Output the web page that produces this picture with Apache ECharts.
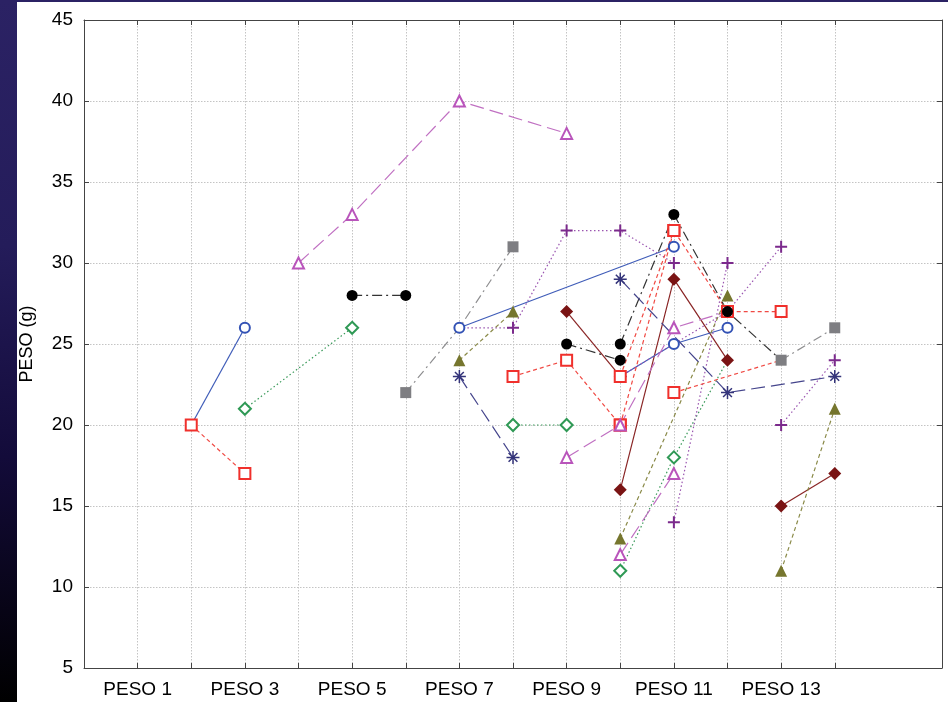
<!DOCTYPE html>
<html>
<head>
<meta charset="utf-8">
<script src="https://cdn.jsdelivr.net/npm/echarts@6/dist/echarts.min.js"></script>
<style>
    html, body { margin: 0; padding: 0; background: #fff; }
    #edge { position: absolute; left: 0; top: 0; width: 17px; height: 702px;
        background: linear-gradient(to bottom, #2b2264 0%, #241c5a 35%, #130b3a 65%, #000 100%); }
    #topEdge { position: absolute; left: 0; top: 0; width: 948px; height: 2px; background: #2b2264; }
    #myChart { position: absolute; left: 0; top: 0; width: 948px; height: 702px; }
</style>
</head>
<body>
<div id="edge"></div>
<div id="topEdge"></div>
<div id="myChart"></div>
<script>
// x labels (PESO 1..14), axis runs one step past each end
const xLabels = ['PESO 1', 'PESO 2', 'PESO 3', 'PESO 4', 'PESO 5', 'PESO 6', 'PESO 7',
    'PESO 8', 'PESO 9', 'PESO 10', 'PESO 11', 'PESO 12', 'PESO 13', 'PESO 14']
const yTicks = [5, 10, 15, 20, 25, 30, 35, 40, 45]

// each trace: [peso index, weight]
const redA = [[2, 20], [3, 17]]
const redB = [[8, 23], [9, 24], [10, 20]]
const redC = [[10, 23], [11, 32]]
const redD = [[10, 20], [11, 32], [12, 27], [13, 27]]
const redE = [[11, 22], [13, 24]]

const blueA = [[2, 20], [3, 26]]
const blueB = [[7, 26], [11, 31]]
const blueC = [[10, 23], [11, 25], [12, 26]]

const greenA = [[3, 21], [5, 26]]
const greenB = [[8, 20], [9, 20]]
const greenC = [[10, 11], [11, 18], [12, 24]]

const magA = [[4, 30], [5, 33], [7, 40], [9, 38]]
const magB = [[9, 18], [10, 20], [11, 26], [12, 27]]
const magC = [[10, 12], [11, 17]]

const blackA = [[5, 28], [6, 28]]
const blackB = [[9, 25], [10, 24]]
const blackC = [[10, 25], [11, 33], [12, 27], [13, 24]]

const grayA = [[6, 22], [7, 26], [8, 31]]
const grayB = [[13, 24], [14, 26]]

const navyA = [[7, 23], [8, 18]]
const navyB = [[10, 29], [12, 22], [14, 23]]

const darkA = [[9, 27], [10, 23]]
const darkB = [[10, 16], [11, 29], [12, 24]]
const darkC = [[13, 15], [14, 17]]

const oliveA = [[7, 24], [8, 27]]
const oliveB = [[10, 13], [12, 28]]
const oliveC = [[13, 11], [14, 21]]

const purpA = [[7, 26], [8, 26], [9, 32], [10, 32], [11, 30]]
const purpB = [[11, 14], [12, 30]]
const purpC = [[10, 23], [12, 27], [13, 31]]
const purpD = [[13, 20], [14, 24]]

// points whose marker sits under another series' marker
const hiddenMarks = [[grayA, 7], [purpA, 7], [magB, 12], [purpC, 12], [redE, 13], [blackC, 13],
    [greenC, 12], [blueA, 2]]

const plusPath = 'path://M5,0L5,10M0,5L10,5'
const starPath = 'path://M5,0L5,10M0,5L10,5M1.6,1.6L8.4,8.4M1.6,8.4L8.4,1.6'

const styles = {
    green: { color: '#2f9955', line: '#3a9a5a', symbol: 'emptyDiamond', size: 12, dash: [1.5, 2.5] },
    dark: { color: '#7a1414', line: '#8a2626', symbol: 'diamond', size: 13, dash: 'solid' },
    blue: { color: '#3352b5', line: '#3f5cb8', symbol: 'emptyCircle', size: 10, dash: 'solid' },
    purple: { color: '#7b2a8c', line: '#9a55b0', symbol: plusPath, size: 12, dash: [1.5, 2.5], stroke: 2 },
    red: { color: '#f0302c', line: '#f04a44', symbol: 'emptyRect', size: 11, dash: [4, 3] },
    mag: { color: '#b955bb', line: '#c070c2', symbol: 'emptyTriangle', size: 11, dash: [14, 6] },
    black: { color: '#000', line: '#333', symbol: 'circle', size: 11, dash: [10, 4, 2, 4] },
    gray: { color: '#7e7e82', line: '#8e8e90', symbol: 'rect', size: 11, dash: [9, 4, 2, 4] },
    navy: { color: '#34347a', line: '#45458c', symbol: starPath, size: 13, dash: [14, 6], stroke: 1.5 },
    olive: { color: '#76762e', line: '#8a8a48', symbol: 'triangle', size: 12, dash: [4, 3] }
}

// drawing order matters: later traces sit on top
const traces = [
    ['green', greenA], ['green', greenB], ['green', greenC],
    ['dark', darkA], ['dark', darkB], ['dark', darkC],
    ['blue', blueA], ['blue', blueB], ['blue', blueC],
    ['purple', purpA], ['purple', purpB], ['purple', purpC], ['purple', purpD],
    ['red', redA], ['red', redB], ['red', redC], ['red', redD], ['red', redE],
    ['mag', magA], ['mag', magB], ['mag', magC],
    ['black', blackA], ['black', blackB], ['black', blackC],
    ['gray', grayA], ['gray', grayB],
    ['navy', navyA], ['navy', navyB],
    ['olive', oliveA], ['olive', oliveB], ['olive', oliveC]
]

const categories = [''].concat(xLabels, ['', ''])
const labelFont = 'Liberation Sans'
const inRange = i => i >= 1 && i <= xLabels.length

const series = traces.map(function (t) {
    const st = styles[t[0]]
    const pts = t[1]
    return {
        type: 'line',
        data: pts,
        silent: true,
        showAllSymbol: true,
        symbol: function (value) {
            const hide = hiddenMarks.some(h => h[0] === pts && h[1] === value[0])
            return hide ? 'none' : st.symbol
        },
        symbolSize: st.size,
        itemStyle: {
            color: st.color,
            borderColor: st.color,
            borderWidth: st.stroke || 0
        },
        lineStyle: { color: st.line, width: 1.2, type: st.dash }
    }
})

const myChart = echarts.init(document.getElementById('myChart'), null, { renderer: 'canvas' })
myChart.setOption({
    animation: false,
    textStyle: { fontFamily: labelFont },
    grid: { left: 84, top: 20, right: 6, bottom: 34, outerBoundsMode: 'none' },
    xAxis: [{
        type: 'category',
        data: categories,
        boundaryGap: false,
        axisLine: { lineStyle: { color: '#444', width: 1 } },
        axisTick: { inside: true, length: 5, lineStyle: { color: '#444' }, interval: (i) => inRange(i) },
        axisLabel: {
            color: '#000', fontSize: 19, fontFamily: labelFont, margin: 12,
            interval: (i) => inRange(i) && i % 2 === 1
        },
        splitLine: { show: true, interval: (i) => inRange(i), lineStyle: { color: '#c4c4c4', type: [1.5, 1.5] } }
    }, {
        type: 'category',
        position: 'top',
        data: categories,
        boundaryGap: false,
        axisLine: { lineStyle: { color: '#444', width: 1 } },
        axisTick: { inside: true, length: 5, lineStyle: { color: '#444' }, interval: (i) => inRange(i) },
        axisLabel: { show: false },
        splitLine: { show: false }
    }],
    yAxis: [{
        type: 'value',
        min: yTicks[0],
        max: yTicks[yTicks.length - 1],
        interval: 5,
        name: 'PESO (g)',
        nameLocation: 'middle',
        nameGap: 48,
        nameTextStyle: { color: '#000', fontSize: 18, fontFamily: labelFont },
        axisLine: { show: true, lineStyle: { color: '#444', width: 1 } },
        axisTick: { show: true, inside: true, length: 5, lineStyle: { color: '#444' } },
        axisLabel: { color: '#000', fontSize: 19, fontFamily: labelFont, margin: 11 },
        splitLine: { show: true, lineStyle: { color: '#c4c4c4', type: [1.5, 1.5] } }
    }, {
        type: 'value',
        position: 'right',
        min: yTicks[0],
        max: yTicks[yTicks.length - 1],
        interval: 5,
        axisLine: { show: true, lineStyle: { color: '#444', width: 1 } },
        axisTick: { show: true, inside: true, length: 5, lineStyle: { color: '#444' } },
        axisLabel: { show: false },
        splitLine: { show: false }
    }],
    series: series
})
</script>
</body>
</html>
